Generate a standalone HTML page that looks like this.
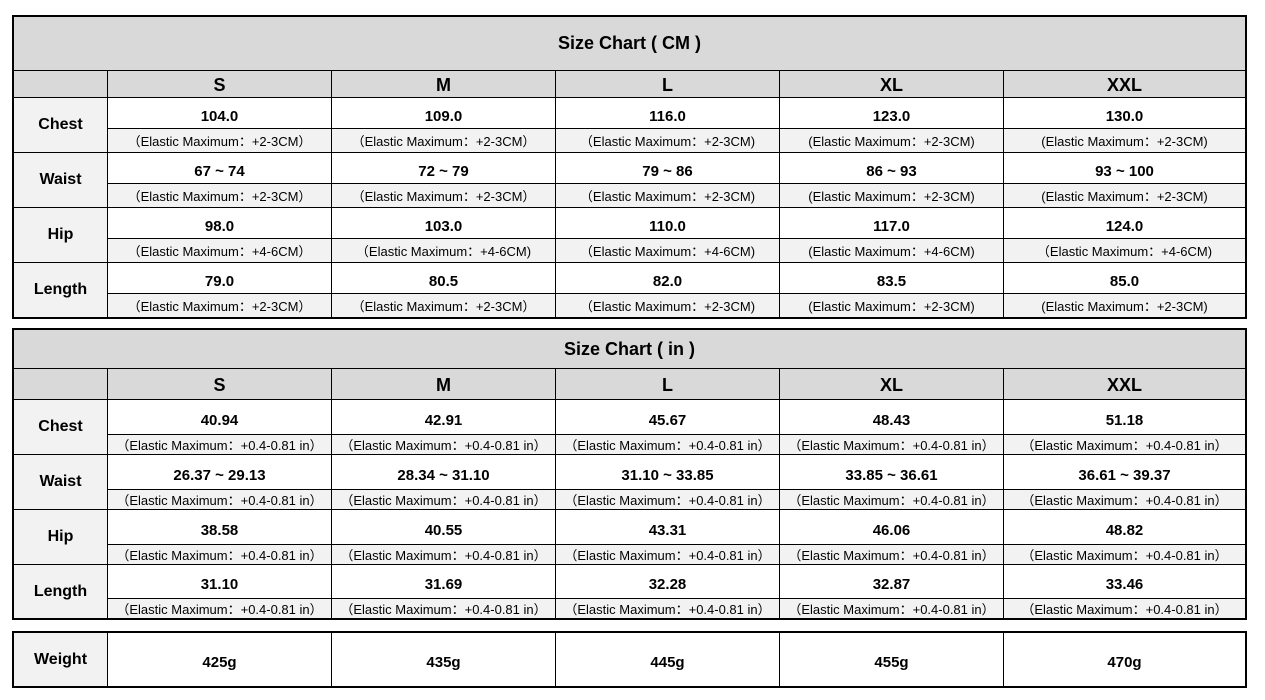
<!DOCTYPE html>
<html><head><meta charset="utf-8"><style>
body{margin:0;background:#fff;width:1265px;height:700px;position:relative;font-family:"Liberation Sans","Noto Sans CJK SC",sans-serif;color:#000}
.g{position:absolute;left:12px;width:1235px;box-sizing:border-box;border:2px solid #000;background:#000;display:grid;gap:1px;grid-template-columns:93px 223px 223px 223px 223px 1fr}
.g>div{background:#fff;display:flex;align-items:center;justify-content:center;white-space:nowrap;overflow:hidden}
.t{grid-column:1/7;background:#d9d9d9!important;font-weight:bold;font-size:18px}
.h{background:#d9d9d9!important;font-weight:bold;font-size:18px;padding-top:2px}
.l{background:#f2f2f2!important;font-weight:bold;font-size:16px;grid-row:span 2}
.v{font-weight:bold;font-size:15px;padding-top:6px}
.s{background:#f2f2f2!important;font-size:13px}
</style></head><body>
<div class="g" style="top:15px;grid-template-rows:53px 26px 30px 23px 30px 23px 30px 23px 30px 23px">
<div class="t">Size Chart ( CM )</div>
<div class="h"></div><div class="h">S</div><div class="h">M</div><div class="h">L</div><div class="h">XL</div><div class="h">XXL</div>
<div class="l">Chest</div><div class="v">104.0</div><div class="v">109.0</div><div class="v">116.0</div><div class="v">123.0</div><div class="v">130.0</div>
<div class="s">（Elastic Maximum：+2-3CM）</div><div class="s">（Elastic Maximum：+2-3CM）</div><div class="s">（Elastic Maximum：+2-3CM)</div><div class="s">(Elastic Maximum：+2-3CM)</div><div class="s">(Elastic Maximum：+2-3CM)</div>
<div class="l">Waist</div><div class="v">67 ~ 74</div><div class="v">72 ~ 79</div><div class="v">79 ~ 86</div><div class="v">86 ~ 93</div><div class="v">93 ~ 100</div>
<div class="s">（Elastic Maximum：+2-3CM）</div><div class="s">（Elastic Maximum：+2-3CM）</div><div class="s">（Elastic Maximum：+2-3CM)</div><div class="s">(Elastic Maximum：+2-3CM)</div><div class="s">(Elastic Maximum：+2-3CM)</div>
<div class="l">Hip</div><div class="v">98.0</div><div class="v">103.0</div><div class="v">110.0</div><div class="v">117.0</div><div class="v">124.0</div>
<div class="s">（Elastic Maximum：+4-6CM）</div><div class="s">（Elastic Maximum：+4-6CM)</div><div class="s">（Elastic Maximum：+4-6CM)</div><div class="s">(Elastic Maximum：+4-6CM)</div><div class="s">（Elastic Maximum：+4-6CM)</div>
<div class="l">Length</div><div class="v">79.0</div><div class="v">80.5</div><div class="v">82.0</div><div class="v">83.5</div><div class="v">85.0</div>
<div class="s">（Elastic Maximum：+2-3CM）</div><div class="s">（Elastic Maximum：+2-3CM）</div><div class="s">（Elastic Maximum：+2-3CM)</div><div class="s">(Elastic Maximum：+2-3CM)</div><div class="s">(Elastic Maximum：+2-3CM)</div>
</div>
<div class="g" style="top:328px;grid-template-rows:38px 30px 34px 19px 34px 19px 34px 19px 33px 19px">
<div class="t">Size Chart ( in )</div>
<div class="h"></div><div class="h">S</div><div class="h">M</div><div class="h">L</div><div class="h">XL</div><div class="h">XXL</div>
<div class="l">Chest</div><div class="v">40.94</div><div class="v">42.91</div><div class="v">45.67</div><div class="v">48.43</div><div class="v">51.18</div>
<div class="s">（Elastic Maximum：+0.4-0.81 in）</div><div class="s">（Elastic Maximum：+0.4-0.81 in）</div><div class="s">（Elastic Maximum：+0.4-0.81 in）</div><div class="s">（Elastic Maximum：+0.4-0.81 in）</div><div class="s">（Elastic Maximum：+0.4-0.81 in）</div>
<div class="l">Waist</div><div class="v">26.37 ~ 29.13</div><div class="v">28.34 ~ 31.10</div><div class="v">31.10 ~ 33.85</div><div class="v">33.85 ~ 36.61</div><div class="v">36.61 ~ 39.37</div>
<div class="s">（Elastic Maximum：+0.4-0.81 in）</div><div class="s">（Elastic Maximum：+0.4-0.81 in）</div><div class="s">（Elastic Maximum：+0.4-0.81 in）</div><div class="s">（Elastic Maximum：+0.4-0.81 in）</div><div class="s">（Elastic Maximum：+0.4-0.81 in）</div>
<div class="l">Hip</div><div class="v">38.58</div><div class="v">40.55</div><div class="v">43.31</div><div class="v">46.06</div><div class="v">48.82</div>
<div class="s">（Elastic Maximum：+0.4-0.81 in）</div><div class="s">（Elastic Maximum：+0.4-0.81 in）</div><div class="s">（Elastic Maximum：+0.4-0.81 in）</div><div class="s">（Elastic Maximum：+0.4-0.81 in）</div><div class="s">（Elastic Maximum：+0.4-0.81 in）</div>
<div class="l">Length</div><div class="v">31.10</div><div class="v">31.69</div><div class="v">32.28</div><div class="v">32.87</div><div class="v">33.46</div>
<div class="s">（Elastic Maximum：+0.4-0.81 in）</div><div class="s">（Elastic Maximum：+0.4-0.81 in）</div><div class="s">（Elastic Maximum：+0.4-0.81 in）</div><div class="s">（Elastic Maximum：+0.4-0.81 in）</div><div class="s">（Elastic Maximum：+0.4-0.81 in）</div>
</div>
<div class="g" style="top:631px;height:57px;grid-template-rows:1fr">
<div class="l" style="grid-row:auto">Weight</div><div class="v">425g</div><div class="v">435g</div><div class="v">445g</div><div class="v">455g</div><div class="v">470g</div>
</div>
</body></html>
